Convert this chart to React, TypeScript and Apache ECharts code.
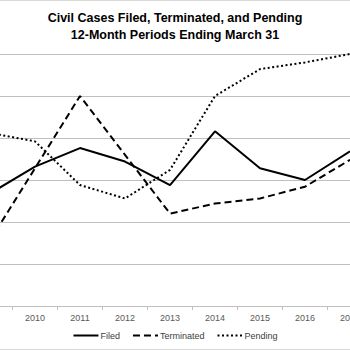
import React, { useEffect, useRef } from "react";
import * as echarts from "echarts";

const years = ["2009", "2010", "2011", "2012", "2013", "2014", "2015", "2016", "2017"];
const filed = [267, 283, 294, 286, 272, 304, 282, 275, 292];
const terminated = [239, 282, 325, 290, 255, 261, 264, 271, 287];
const pending = [303, 298, 272, 264, 281, 325, 341, 345, 350];

const FONT = "'Liberation Sans Narrow', 'Liberation Sans', Arial, sans-serif";

export default function App() {
  const ref = useRef<HTMLDivElement>(null);
  useEffect(() => {
    if (!ref.current) return;
    const chart = echarts.init(ref.current, undefined, { renderer: "svg" });
    const mk = (name: string, data: number[], dash: any) => ({
      name,
      type: "line",
      data,
      symbol: "none",
      lineStyle: { color: "#000", width: 2, type: dash },
      itemStyle: { color: "#000" },
    });
    chart.setOption({
      animation: false,
      backgroundColor: "#fff",
      title: {
        text: "Civil Cases Filed, Terminated, and Pending\n12-Month Periods Ending March 31",
        left: "center",
        top: 4,
        textStyle: { fontFamily: FONT, fontSize: 12.5, fontWeight: "bold", color: "#000", lineHeight: 17 },
      },
      legend: {
        bottom: 5,
        left: "center",
        itemWidth: 25,
        itemHeight: 8,
        itemGap: 12,
        itemStyle: { color: "rgba(0,0,0,0)", borderWidth: 0, opacity: 0 },
        textStyle: { fontFamily: FONT, fontSize: 9, color: "#404040", padding: [0, 0, 0, -3] },
        data: ["Filed", "Terminated", "Pending"],
      },
      grid: { left: 27.5, right: 37.5, top: 54, bottom: 44 },
      xAxis: {
        type: "category",
        data: years,
        boundaryGap: true,
        axisLine: { lineStyle: { color: "#bfbfbf", width: 1 } },
        axisTick: { show: true, length: 4, lineStyle: { color: "#bfbfbf" } },
        axisLabel: { fontFamily: FONT, fontSize: 9, color: "#595959", margin: 7 },
      },
      yAxis: {
        type: "value",
        min: 200,
        max: 350,
        interval: 25,
        axisLine: { show: false },
        axisTick: { show: false },
        axisLabel: { show: false },
        splitLine: { lineStyle: { color: "#bfbfbf", width: 1 } },
      },
      graphic: [
        {
          type: "rect",
          shape: { x: 0.5, y: 0.5, width: 469, height: 349 },
          style: { fill: "none", stroke: "#d9d9d9", lineWidth: 1 },
          silent: true,
        },
      ],
      series: [
        mk("Filed", filed, "solid"),
        mk("Terminated", terminated, [7, 4]),
        mk("Pending", pending, [2, 2.5]),
      ],
    });
    return () => chart.dispose();
  }, []);
  return (
    <div style={{ position: "fixed", left: 0, top: 0, width: 350, height: 350, overflow: "hidden", background: "#fff" }}>
      <div ref={ref} style={{ position: "absolute", left: -60, top: 0, width: 470, height: 350 }} />
    </div>
  );
}
